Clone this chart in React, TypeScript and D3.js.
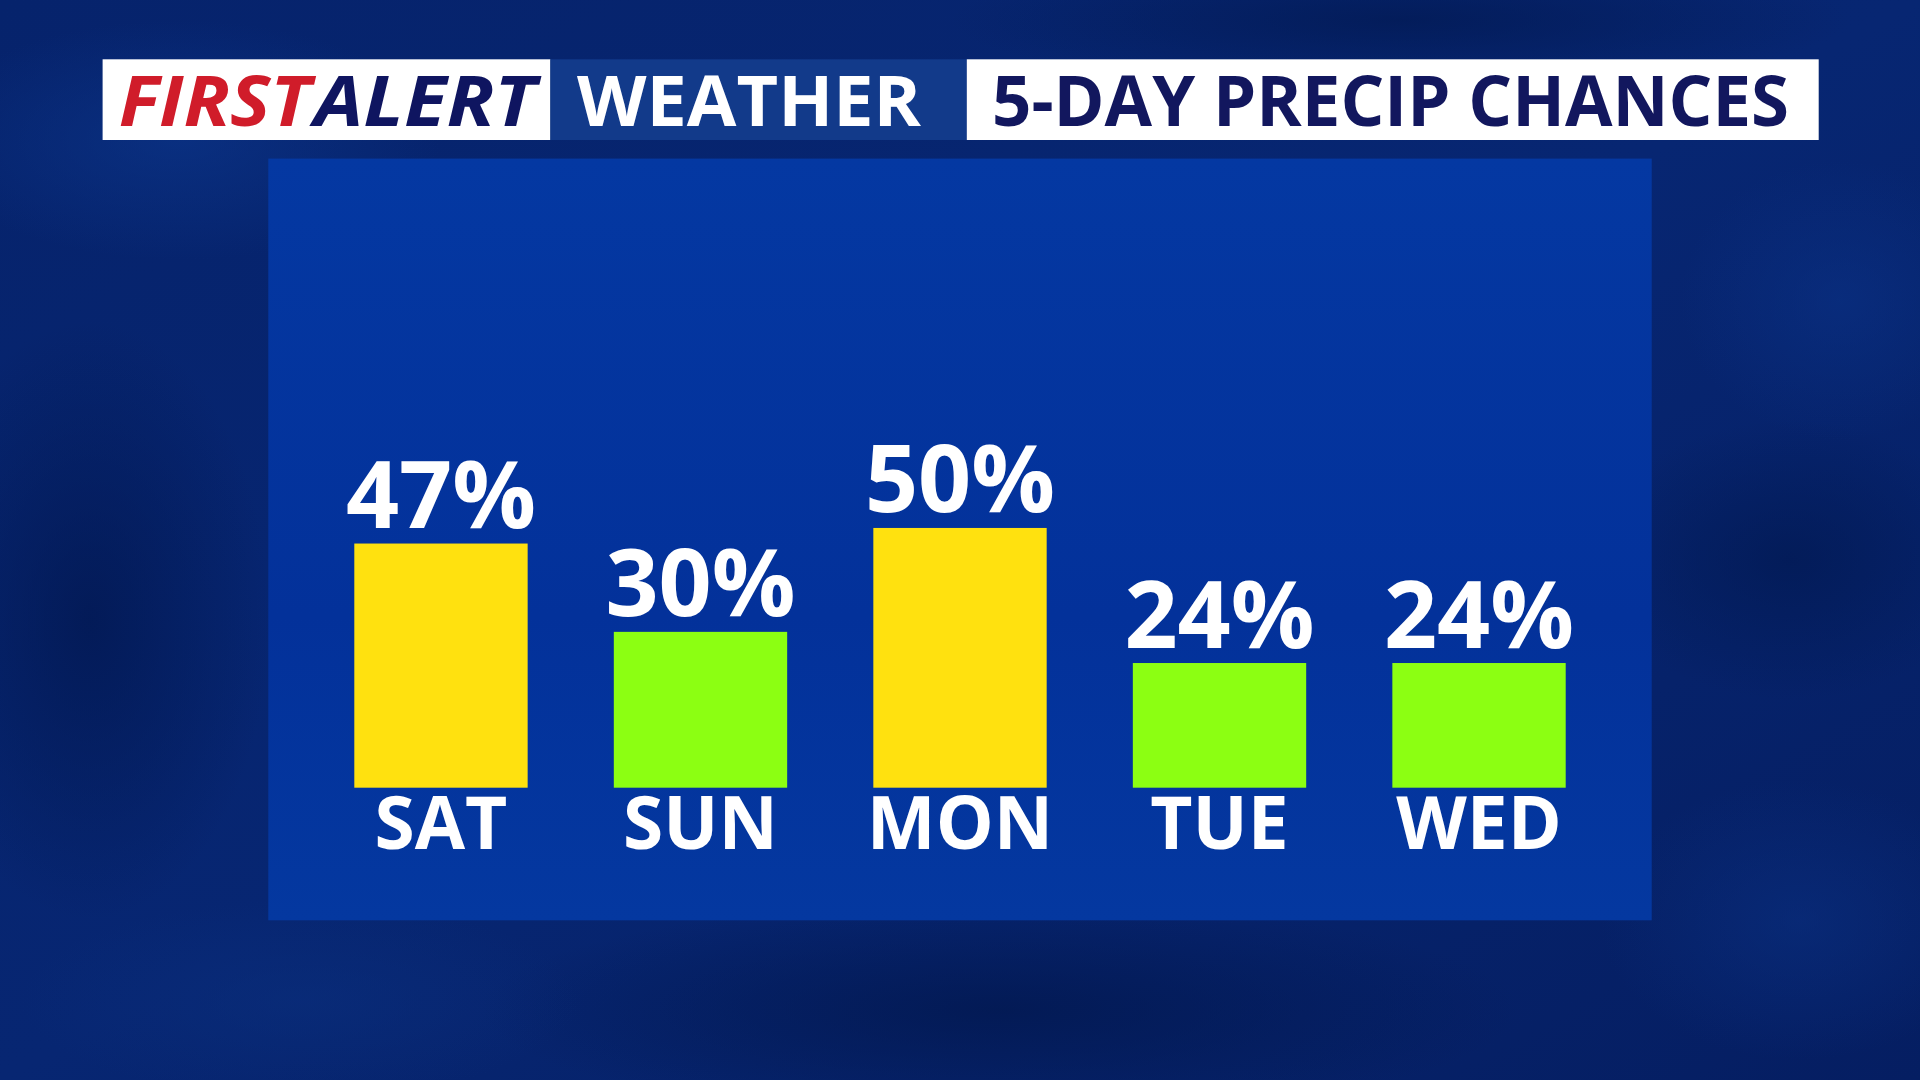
import React from "react";
import * as d3 from "d3";

const days = ["SAT", "SUN", "MON", "TUE", "WED"];
const precipChances = [47, 30, 50, 24, 24];
const barColors = ["#FFE10F", "#8CFF12", "#FFE10F", "#8CFF12", "#8CFF12"];
const titleParts = ["FIRST", "ALERT", "WEATHER", "5-DAY PRECIP CHANCES"];

const W = 1920;
const H = 1080;

const clouds = [
  { cx: 180, cy: 140, rx: 260, ry: 120, c: "#0b3488", o: 0.7 },
  { cx: 90, cy: 620, rx: 180, ry: 300, c: "#021852", o: 0.8 },
  { cx: 1790, cy: 560, rx: 200, ry: 140, c: "#021a55", o: 0.8 },
  { cx: 1840, cy: 300, rx: 160, ry: 140, c: "#0a3185", o: 0.6 },
  { cx: 1800, cy: 920, rx: 200, ry: 140, c: "#0a2f80", o: 0.6 },
  { cx: 1000, cy: 1010, rx: 520, ry: 110, c: "#021850", o: 0.8 },
  { cx: 300, cy: 1000, rx: 280, ry: 100, c: "#0a2e7c", o: 0.6 },
  { cx: 1400, cy: 20, rx: 450, ry: 70, c: "#021a55", o: 0.8 },
];

export default function App() {
  const x = d3
    .scaleBand<string>()
    .domain(days)
    .range([354.3, 1565.7])
    .paddingInner(0.332)
    .paddingOuter(0);
  const y = d3.scaleLinear().domain([0, 100]).range([787.7, 787.7 - 519.5]);

  const font = "'Open Sans', 'Noto Sans', sans-serif";

  return (
    <svg
      width={W}
      height={H}
      viewBox={`0 0 ${W} ${H}`}
      style={{ position: "absolute", left: 0, top: 0, display: "block" }}
    >
      <defs>
        <linearGradient id="bg" x1="0" y1="0" x2="1" y2="1">
          <stop offset="0%" stopColor="#06236c" />
          <stop offset="50%" stopColor="#072672" />
          <stop offset="100%" stopColor="#051e62" />
        </linearGradient>
        <linearGradient id="panel" x1="0" y1="0" x2="0" y2="1">
          <stop offset="0%" stopColor="#0438a2" />
          <stop offset="60%" stopColor="#03319a" />
          <stop offset="100%" stopColor="#0438a0" />
        </linearGradient>
        {clouds.map((c, i) => (
          <radialGradient key={i} id={`cl${i}`} cx="50%" cy="50%" r="50%">
            <stop offset="0%" stopColor={c.c} stopOpacity={c.o} />
            <stop offset="100%" stopColor={c.c} stopOpacity={0} />
          </radialGradient>
        ))}
      </defs>

      <rect x={0} y={0} width={W} height={H} fill="url(#bg)" />
      {clouds.map((c, i) => (
        <ellipse key={i} cx={c.cx} cy={c.cy} rx={c.rx} ry={c.ry} fill={`url(#cl${i})`} />
      ))}

      {/* panel */}
      <rect x={268.3} y={158.6} width={1651.7 - 268.3} height={920.3 - 158.6} fill="url(#panel)" />

      {/* header */}
      <rect x={102.6} y={59.3} width={550.4 - 102.6} height={140 - 59.3} fill="#ffffff" />
      <rect x={550.4} y={59.3} width={966.8 - 550.4} height={140 - 59.3} fill="#123a8a" />
      <rect x={966.8} y={59.3} width={1818.7 - 966.8} height={140 - 59.3} fill="#ffffff" />

      <text
        x={118.7}
        y={126}
        fontFamily={font}
        fontWeight={700}
        fontStyle="italic"
        fontSize={70}
        fill="#D01C2A"
        textLength={192}
        lengthAdjust="spacingAndGlyphs"
      >
        {titleParts[0]}
      </text>
      <text
        x={314}
        y={126}
        fontFamily={font}
        fontWeight={700}
        fontStyle="italic"
        fontSize={70}
        fill="#0F1560"
        textLength={222}
        lengthAdjust="spacingAndGlyphs"
      >
        {titleParts[1]}
      </text>
      <text
        x={577}
        y={126}
        fontFamily={font}
        fontWeight={700}
        fontSize={70}
        fill="#ffffff"
        textLength={344}
        lengthAdjust="spacingAndGlyphs"
      >
        {titleParts[2]}
      </text>
      <text
        x={992}
        y={126}
        fontFamily={font}
        fontWeight={700}
        fontSize={70}
        fill="#12175E"
        textLength={797}
        lengthAdjust="spacingAndGlyphs"
      >
        {titleParts[3]}
      </text>

      {/* bars */}
      {days.map((d, i) => {
        const v = precipChances[i];
        const bx = x(d) as number;
        const bw = x.bandwidth();
        const top = y(v);
        const cx = bx + bw / 2;
        return (
          <g key={d}>
            <rect x={bx} y={top} width={bw} height={y(0) - top} fill={barColors[i]} />
            <text
              x={cx}
              y={top - 15.5}
              textAnchor="middle"
              fontFamily={font}
              fontWeight={700}
              fontSize={93}
              fill="#ffffff"
            >
              {`${v}%`}
            </text>
            <text
              x={cx}
              y={849.3}
              textAnchor="middle"
              fontFamily={font}
              fontWeight={700}
              fontSize={73}
              fill="#ffffff"
            >
              {d}
            </text>
          </g>
        );
      })}
    </svg>
  );
}
